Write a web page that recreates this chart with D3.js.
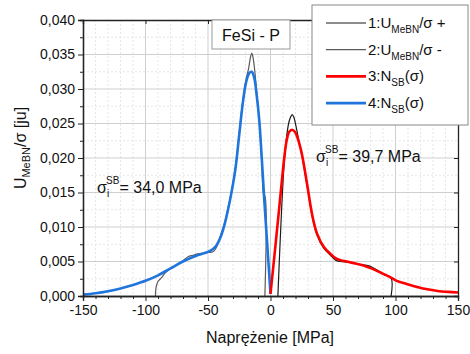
<!DOCTYPE html>
<html><head><meta charset="utf-8">
<script src="https://cdn.jsdelivr.net/npm/d3@7"></script>
<style>body{margin:0;background:#fff}svg{font-family:"Liberation Sans",Arial,sans-serif}</style>
</head><body>
<svg id="c" width="470" height="354"></svg>
<script>
// ---- data ----
const sigmaBlue = [-150,-140,-130,-120,-110,-100,-90,-80,-70,-60,-55,-50,-46,-43,-40,-37,-34,-31,-28,-25,-22,-19.5,-17,-15,-13,-11,-9,-7,-5,-2.5,0];
const nBlue     = [0.0002,0.0004,0.0007,0.0011,0.0016,0.0022,0.0030,0.0040,0.0050,0.0058,0.0061,0.0064,0.0068,0.0074,0.0085,0.0102,0.0125,0.0152,0.0185,0.0234,0.0282,0.0310,0.0323,0.0325,0.0316,0.0290,0.0255,0.0200,0.0140,0.0072,0.0003];

const sigmaRed = [0,3,6,9,11,13,15,17.3,19.5,21.5,23.5,25.5,29.3,33.3,37.3,42.7,48,52,56,61,68,75,82,88,95,101,108,115,122,128,135,142,150];
const nRed     = [0.0003,0.0056,0.0110,0.0165,0.0200,0.0226,0.0238,0.0241,0.0238,0.0230,0.0218,0.0202,0.0162,0.0118,0.0090,0.0071,0.0061,0.0055,0.0052,0.0050,0.0047,0.0044,0.0039,0.0034,0.0028,0.0022,0.0018,0.0014,0.0011,0.0009,0.0007,0.0006,0.0005];

const sigma1 = [5.9,7.5,9,10.7,12.5,14.5,16,17.3,18.7,20.5,23,25.5,29.3,33.3,37.3,42.7,48,52,56,62,68,74,78,81,86,91,96.5,96.5];
const u1     = [0,0.0070,0.0130,0.0186,0.0225,0.0250,0.0259,0.0263,0.0259,0.0245,0.0222,0.0200,0.0160,0.0116,0.0088,0.0069,0.0059,0.0052,0.0050,0.0049,0.0047,0.0045,0.0044,0.0042,0.0037,0.0031,0.0026,0];

const sigma2 = [-92,-91.5,-90,-87,-84,-80,-75,-70,-66,-62,-58,-54,-50,-46,-44,-42,-40,-37,-34,-31,-28,-25,-22,-19.5,-17.5,-16,-15,-14,-12.5,-11,-9,-7,-5.3,-4.5,-4.5];
const u2     = [0,0.0013,0.0021,0.0027,0.0034,0.0040,0.0045,0.0051,0.0057,0.0059,0.0061,0.0062,0.0063,0.0064,0.0068,0.0076,0.0087,0.0104,0.0127,0.0154,0.0188,0.0237,0.0285,0.0314,0.0330,0.0346,0.0352,0.0346,0.0325,0.0294,0.0255,0.0195,0.0146,0.0145,0];

const xTicks = [-150,-100,-50,0,50,100,150];
const yTicks = [0,0.005,0.010,0.015,0.020,0.025,0.030,0.035,0.040];

// ---- layout ----
const svg = d3.select('#c');
const L=83, T=20, R=458, B=296;
const x = d3.scaleLinear().domain([-150,150]).range([L,R]);
const y = d3.scaleLinear().domain([0,0.04]).range([B,T]);
const fmt = v => d3.format('.3f')(v).replace('.',',');

// grid
const g = svg.append('g');
d3.range(-140,150,10).forEach(v=>{
  const major = v%50===0;
  g.append('line').attr('x1',x(v)).attr('x2',x(v)).attr('y1',T).attr('y2',B)
   .attr('stroke',major?'#cfcfcf':'#e6e6e6').attr('stroke-width',1)
   .attr('stroke-dasharray',major?null:'2,2');
});
d3.range(1,16).map(i=>i*0.0025).forEach(v=>{
  const major = Math.abs((v/0.005)-Math.round(v/0.005))<1e-6;
  g.append('line').attr('x1',L).attr('x2',R).attr('y1',y(v)).attr('y2',y(v))
   .attr('stroke',major?'#cfcfcf':'#e6e6e6').attr('stroke-width',1)
   .attr('stroke-dasharray',major?null:'2,2');
});

// curves
const line = (xs,ys)=>d3.line().x((d,i)=>x(xs[i])).y((d,i)=>y(ys[i])).curve(d3.curveCatmullRom.alpha(0.5))(xs);
svg.append('path').attr('d',line(sigma2,u2)).attr('fill','none').attr('stroke','#5a5a5a').attr('stroke-width',1.2);
svg.append('path').attr('d',line(sigma1,u1)).attr('fill','none').attr('stroke','#1a1a1a').attr('stroke-width',1.2);
svg.append('path').attr('d',line(sigmaBlue,nBlue)).attr('fill','none').attr('stroke','#1f75dc').attr('stroke-width',2.6);
svg.append('path').attr('d',line(sigmaRed,nRed)).attr('fill','none').attr('stroke','#ff0000').attr('stroke-width',2.6);

// axes
const ax = svg.append('g').attr('transform',`translate(0,${B})`)
  .call(d3.axisBottom(x).tickValues(xTicks).tickSize(5).tickPadding(4).tickFormat(d=>d));
const axm = svg.append('g').attr('transform',`translate(0,${B})`)
  .call(d3.axisBottom(x).tickValues(d3.range(-140,150,10).filter(v=>v%50!==0)).tickSize(3).tickFormat(''));
const ay = svg.append('g').attr('transform',`translate(${L},0)`)
  .call(d3.axisLeft(y).tickValues(yTicks).tickSize(5).tickPadding(3).tickFormat(fmt));
const aym = svg.append('g').attr('transform',`translate(${L},0)`)
  .call(d3.axisLeft(y).tickValues(d3.range(0,8).map(i=>0.0025+i*0.005)).tickSize(3).tickFormat(''));
const at = svg.append('g').attr('transform',`translate(0,${T})`)
  .call(d3.axisBottom(x).tickValues(xTicks).tickSize(4).tickFormat(''));
const ar = svg.append('g').attr('transform',`translate(${R},0)`)
  .call(d3.axisLeft(y).tickValues(yTicks).tickSize(4).tickFormat(''));
[ax,axm,ay,aym,at,ar].forEach(a=>{
  a.select('.domain').attr('stroke','#222').attr('stroke-width',1.3);
  a.selectAll('.tick line').attr('stroke','#222');
  a.selectAll('text').attr('font-size',14).attr('fill','#111').attr('font-family','"Liberation Sans",Arial,sans-serif');
});

// axis labels
svg.append('text').attr('x',270).attr('y',343).attr('text-anchor','middle')
  .attr('font-size',16).attr('fill','#111').text('Naprężenie [MPa]');
const yl = svg.append('text').attr('transform','translate(26,148) rotate(-90)')
  .attr('text-anchor','middle').attr('font-size',16).attr('fill','#111');
yl.append('tspan').text('U');
yl.append('tspan').attr('font-size',11).attr('dy',4).text('MeBN');
yl.append('tspan').attr('dy',-4).text('/σ [ju]');

// title box
svg.append('rect').attr('x',212).attr('y',20).attr('width',78).attr('height',29)
  .attr('fill','#fff').attr('stroke','#999').attr('stroke-width',1);
svg.append('text').attr('x',251).attr('y',41).attr('text-anchor','middle')
  .attr('font-size',16).attr('fill','#111').text('FeSi - P');

// annotations
function ann(x0,y0,val){
  const t = svg.append('text').attr('x',x0).attr('y',y0).attr('font-size',16).attr('fill','#111');
  t.append('tspan').text('σ');
  t.append('tspan').attr('font-size',10).attr('dy',4).text('i');
  t.append('tspan').attr('font-size',10).attr('dx',-3).attr('dy',-13).text('SB');
  t.append('tspan').attr('dy',9).text('= '+val+' MPa');
}
ann(97,193,'34,0');
ann(316,162,'39,7');

// legend
svg.append('rect').attr('x',312).attr('y',5).attr('width',156).attr('height',120)
  .attr('fill','#fff').attr('stroke','#888').attr('stroke-width',1);
const legItems = [
  {c:'#1a1a1a',w:1.2,parts:[['1:U',0],['MeBN',1],['/σ +',0]]},
  {c:'#5a5a5a',w:1.2,parts:[['2:U',0],['MeBN',1],['/σ -',0]]},
  {c:'#ff0000',w:2.6,parts:[['3:N',0],['SB',1],['(σ)',0]]},
  {c:'#1f75dc',w:2.6,parts:[['4:N',0],['SB',1],['(σ)',0]]}
];
legItems.forEach((it,i)=>{
  const ly = 23+i*26.7;
  svg.append('line').attr('x1',326).attr('x2',366).attr('y1',ly).attr('y2',ly)
    .attr('stroke',it.c).attr('stroke-width',it.w);
  const t = svg.append('text').attr('x',368).attr('y',ly+5).attr('font-size',15).attr('fill','#111');
  let prev=0;
  it.parts.forEach(([s,sub])=>{
    const dy = sub? 5 : (prev?-5:0);
    t.append('tspan').attr('font-size',sub?10:15).attr('dy',dy).text(s);
    prev=sub;
  });
});
</script>
</body></html>
